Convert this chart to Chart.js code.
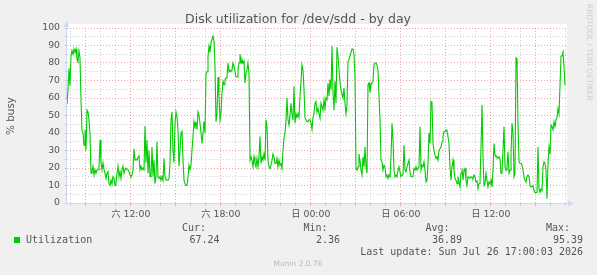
<!DOCTYPE html>
<html><head><meta charset="utf-8">
<script src="https://cdn.jsdelivr.net/npm/chart.js@4/dist/chart.umd.min.js"></script>
<style>html,body{margin:0;padding:0;background:#f0f0f0;}canvas{display:block}</style>
</head><body>
<canvas id="c" width="597" height="275"></canvas>
<script>
// ---- chart content ----
const TITLE = 'Disk utilization for /dev/sdd - by day';
const Y_LABEL = '% busy';
const SERIES_NAME = 'Utilization';
const START_HOUR = 7.75;        // Sat 07:45 (hours since Sat 00:00)
const STEP_HOUR = 4 / 60;       // one sample every 4 minutes
const END_HOUR = 41 + 1 / 60;   // Sun 17:01
const values = [
  56.5,65,77,67,84,87,85,88,86,88, 82,80.5,87,83,59,41,40,33,42,30,
  53,52,47.5,40,17,18,21,16,19,17, 19,19,21,36,23,19,23,19,17,14,
  17,18,11,10,13,11,15,14,10,12, 17,21,15,18,14,19,21,17,19,20,
  19,19,18,16,15,16,19,31,24.5,25, 24.5,26,27,19,21,19,20,19,44,23,
  36,17,30,15,
  15,32,15,24.5,11,15,35,15,14,15, 13,15,13,25.5,15,13.4,13,13,14,23,
  47.5,52,30,23,45.6,52,49,42,21,30, 40,41,24.5,13,11,10,10,15,21.6,19,
  21.6,30,38,46.5,44,45.6,42,52,50,45.6, 40,34,40,46.5,40,74,75,84,89.6,86,
  91.6,91.6,95.4,92.5,78,46.5,51,72,61,47.5, 51,63,69.5,67.6,70.5,71.5,72,80,75,76,
  75,76,80,78,
  75,72,72,76,80,85,80,82,80,81, 68.6,74,76,80,74,24.5,26.4,24.5,20.7,26.4,
  22.6,20.7,25.5,20.7,26.4,38,22.6,26.4,24.5,28, 24.5,47.5,43.7,24.5,20.7,19.7,21.6,24.5,28,26.4,
  22.6,22.6,25.5,20.7,24.5,21.6,22.6,19.7,30,37, 40,47.5,60,47.5,44.6,50,57,51,47.5,66.7,
  45.6,51,49,51,49,61,69.5,79,76,64.8, 49,47.5,46.5,46.5,47.5,47.5,45.6,42,49,51,
  57,58,52,54,
  51,48.5,57,55,53,59,54,60,59,68.6, 61,70.5,64.8,89.7,63,53,69.5,57,89,84,
  76,68.6,64.8,62,60,65.7,57,51,56,81, 82,84,86,88,88,85,72,19.7,18.8,20.7,
  28,24.5,18.8,16,26.4,20.7,32,20.7,17,67.6, 68.6,63,67.6,68.6,69.5,79,80,80,79,76,
  61,47.5,24.5,23.6,18.8,21.6,20.7,15,16,14, 16,15,26.4,45.6,36,18.8,15,16,15,18.8,
  20.7,17.8,15,16,
  16,33,18.8,17.8,20.7,22.6,24.5,17.8,15,15, 15,19.7,18.8,20.7,18.8,18.8,20.7,43.7,18.8,21.6,
  20.7,23.6,18.8,12,13,22.6,40,34,58,57, 34,30,27.4,25.5,26.4,24.5,30,31,32,35,
  38,40.8,40.8,41.8,40.8,38,34,20.7,13,20.7, 24.5,18.8,14,13,11,15,12,9.2,17,19.7,
  13,18.8,19.7,13,10,15,15,14,15,14.6, 14,16,15,12,13,8.2,11,12,32,56,
  26.4,
  10,11,17,13,9.2,12,11,13,9.2,18.8, 34,27.4,26.4,26.4,25.5,26.4,25.5,17,17,17,
  43.7,20.7,18.8,20.7,29.3,17,18.8,28,45.6,40, 15,17,83,82.4,45.6,23.6,22.6,22.6,21.6,18.8,
  15,13,12,15,16,15,10,9.2,9.6,10, 7,6,6,6,32,8,6,8,7,20.7,
  23.6,22.6,18.8,2.4,22.6,32,28,44.6,43.7,41.8, 46.5,43.7,47.5,48.5,54,51,66.7,84,84,86.2,
  78,67.24
];
const xTickHours = [8,9,10,11,12,13,14,15,16,17,18,19,20,21,22,23,24,25,26,27,28,29,30,31,32,33,34,35,36,37,38,39,40,41];
const xTickLabels = {12:'六 12:00', 18:'六 18:00', 24:'日 00:00', 30:'日 06:00', 36:'日 12:00'};
const statLabels = ['Cur:', 'Min:', 'Avg:', 'Max:'];
const statValues = ['67.24', '2.36', '36.89', '95.39'];
const LAST_UPDATE = 'Last update: Sun Jul 26 17:00:03 2026';
const WATERMARK = 'Munin 2.0.76';
const SIDE_TEXT = 'RRDTOOL / TOBI OETIKER';

// ---- styles ----
const GREEN = '#00cc00';
const FONT_COL = '#555555';
const GRID_COL = 'rgba(143,143,143,0.4)';
const MGRID_COL = 'rgba(222,79,79,0.5)';
const AXIS_COL = '#cfd6f8';
const SANS = "'DejaVu Sans', 'Noto Sans CJK SC', sans-serif";
const MONO = "'DejaVu Sans Mono', monospace";

const points = values.map((v, i) => ({x: START_HOUR + i * STEP_HOUR, y: v}));

const decor = {
  id: 'decor',
  beforeDraw(chart) {
    const ctx = chart.ctx;
    ctx.save();
    ctx.fillStyle = '#f0f0f0';
    ctx.fillRect(0, 0, chart.width, chart.height);
    const a = chart.chartArea;
    ctx.fillStyle = '#ffffff';
    ctx.fillRect(a.left, a.top - 4, a.right - a.left + 1, a.bottom - a.top + 4);
    ctx.restore();
  },
  beforeDatasetsDraw(chart) {
    const ctx = chart.ctx, a = chart.chartArea;
    ctx.save();
    ctx.strokeStyle = AXIS_COL; ctx.fillStyle = AXIS_COL; ctx.lineWidth = 1;
    ctx.beginPath();
    ctx.moveTo(a.left - 0.5, a.bottom + 0.5); ctx.lineTo(a.left - 0.5, a.top - 2);
    ctx.moveTo(a.left - 3, a.bottom + 0.5); ctx.lineTo(a.right + 3, a.bottom + 0.5);
    ctx.stroke();
    ctx.beginPath();
    ctx.moveTo(a.left - 3.5, a.top - 1); ctx.lineTo(a.left - 0.5, a.top - 7); ctx.lineTo(a.left + 2.5, a.top - 1); ctx.closePath(); ctx.fill();
    ctx.beginPath();
    ctx.moveTo(a.right + 2, a.bottom - 2.5); ctx.lineTo(a.right + 8, a.bottom + 0.5); ctx.lineTo(a.right + 2, a.bottom + 3.5); ctx.closePath(); ctx.fill();
    ctx.restore();
  },
  afterDraw(chart) {
    const ctx = chart.ctx;
    ctx.save();
    ctx.fillStyle = FONT_COL;
    ctx.textBaseline = 'middle';
    // title
    ctx.font = '12.5px ' + SANS; ctx.textAlign = 'center';
    ctx.fillText(TITLE, 298, 19.5);
    // y label
    ctx.save();
    ctx.translate(11, 116); ctx.rotate(-Math.PI / 2);
    ctx.font = '10.4px ' + SANS; ctx.textAlign = 'center';
    ctx.fillText(Y_LABEL, 0, 0);
    ctx.restore();
    // side text
    ctx.save();
    ctx.fillStyle = '#cccccc';
    ctx.translate(589, 4); ctx.rotate(Math.PI / 2);
    ctx.font = '7.5px ' + SANS; ctx.textAlign = 'left';
    ctx.fillText(SIDE_TEXT, 0, 0);
    ctx.restore();
    // legend
    ctx.fillStyle = GREEN;
    ctx.fillRect(14, 237, 6, 6);
    ctx.fillStyle = FONT_COL;
    ctx.font = '10px ' + MONO;
    ctx.textAlign = 'left';
    ctx.fillText(SERIES_NAME, 26, 240);
    const labelRight = [206, 327.5, 449.5, 570];
    const valueRight = [219.5, 340, 462, 583];
    ctx.textAlign = 'right';
    statLabels.forEach((t, i) => ctx.fillText(t, labelRight[i], 228));
    statValues.forEach((t, i) => ctx.fillText(t, valueRight[i], 240));
    ctx.fillText(LAST_UPDATE, 583, 252);
    // watermark
    ctx.fillStyle = '#b8b8b8';
    ctx.font = '7.5px ' + SANS; ctx.textAlign = 'center';
    ctx.fillText(WATERMARK, 298, 264.5);
    ctx.restore();
  }
};

new Chart(document.getElementById('c'), {
  type: 'line',
  data: {
    datasets: [{
      label: SERIES_NAME,
      data: points,
      borderColor: GREEN,
      borderWidth: 1.1,
      pointRadius: 0,
      tension: 0,
      fill: false
    }]
  },
  options: {
    responsive: false,
    animation: false,
    devicePixelRatio: 1,
    layout: {padding: {left: 0, top: 28, right: 31, bottom: 0}},
    plugins: {legend: {display: false}, tooltip: {enabled: false}, title: {display: false}},
    scales: {
      x: {
        type: 'linear',
        min: START_HOUR,
        max: END_HOUR,
        afterBuildTicks: s => { s.ticks = xTickHours.map(v => ({value: v})); },
        afterFit: s => { s.height = 72; },
        border: {display: false, dash: [1, 2]},
        grid: {
          color: c => (c.tick && c.tick.value % 3 === 0) ? MGRID_COL : GRID_COL,
          tickColor: c => (c.tick && c.tick.value % 3 === 0) ? MGRID_COL : GRID_COL,
          tickLength: 3,
          lineWidth: 1
        },
        ticks: {
          autoSkip: false,
          maxRotation: 0,
          padding: 3,
          color: FONT_COL,
          font: {family: SANS, size: 9.33},
          callback: v => xTickLabels[v] || ''
        }
      },
      y: {
        type: 'linear',
        min: 0,
        max: 100,
        afterFit: s => { s.width = 67; },
        border: {display: false, dash: [1, 2]},
        grid: {
          color: c => (c.tick && c.tick.value === 0) ? 'rgba(0,0,0,0)' : (c.tick && c.tick.value % 10 === 0 ? MGRID_COL : GRID_COL),
          tickColor: c => (c.tick && c.tick.value % 10 === 0) ? MGRID_COL : GRID_COL,
          tickLength: 2,
          lineWidth: 1
        },
        ticks: {
          stepSize: 5,
          autoSkip: false,
          padding: 5,
          color: FONT_COL,
          font: {family: SANS, size: 9.33},
          callback: v => (v % 10 === 0 ? String(v) : '')
        }
      }
    }
  },
  plugins: [decor]
});
</script>
</body></html>
